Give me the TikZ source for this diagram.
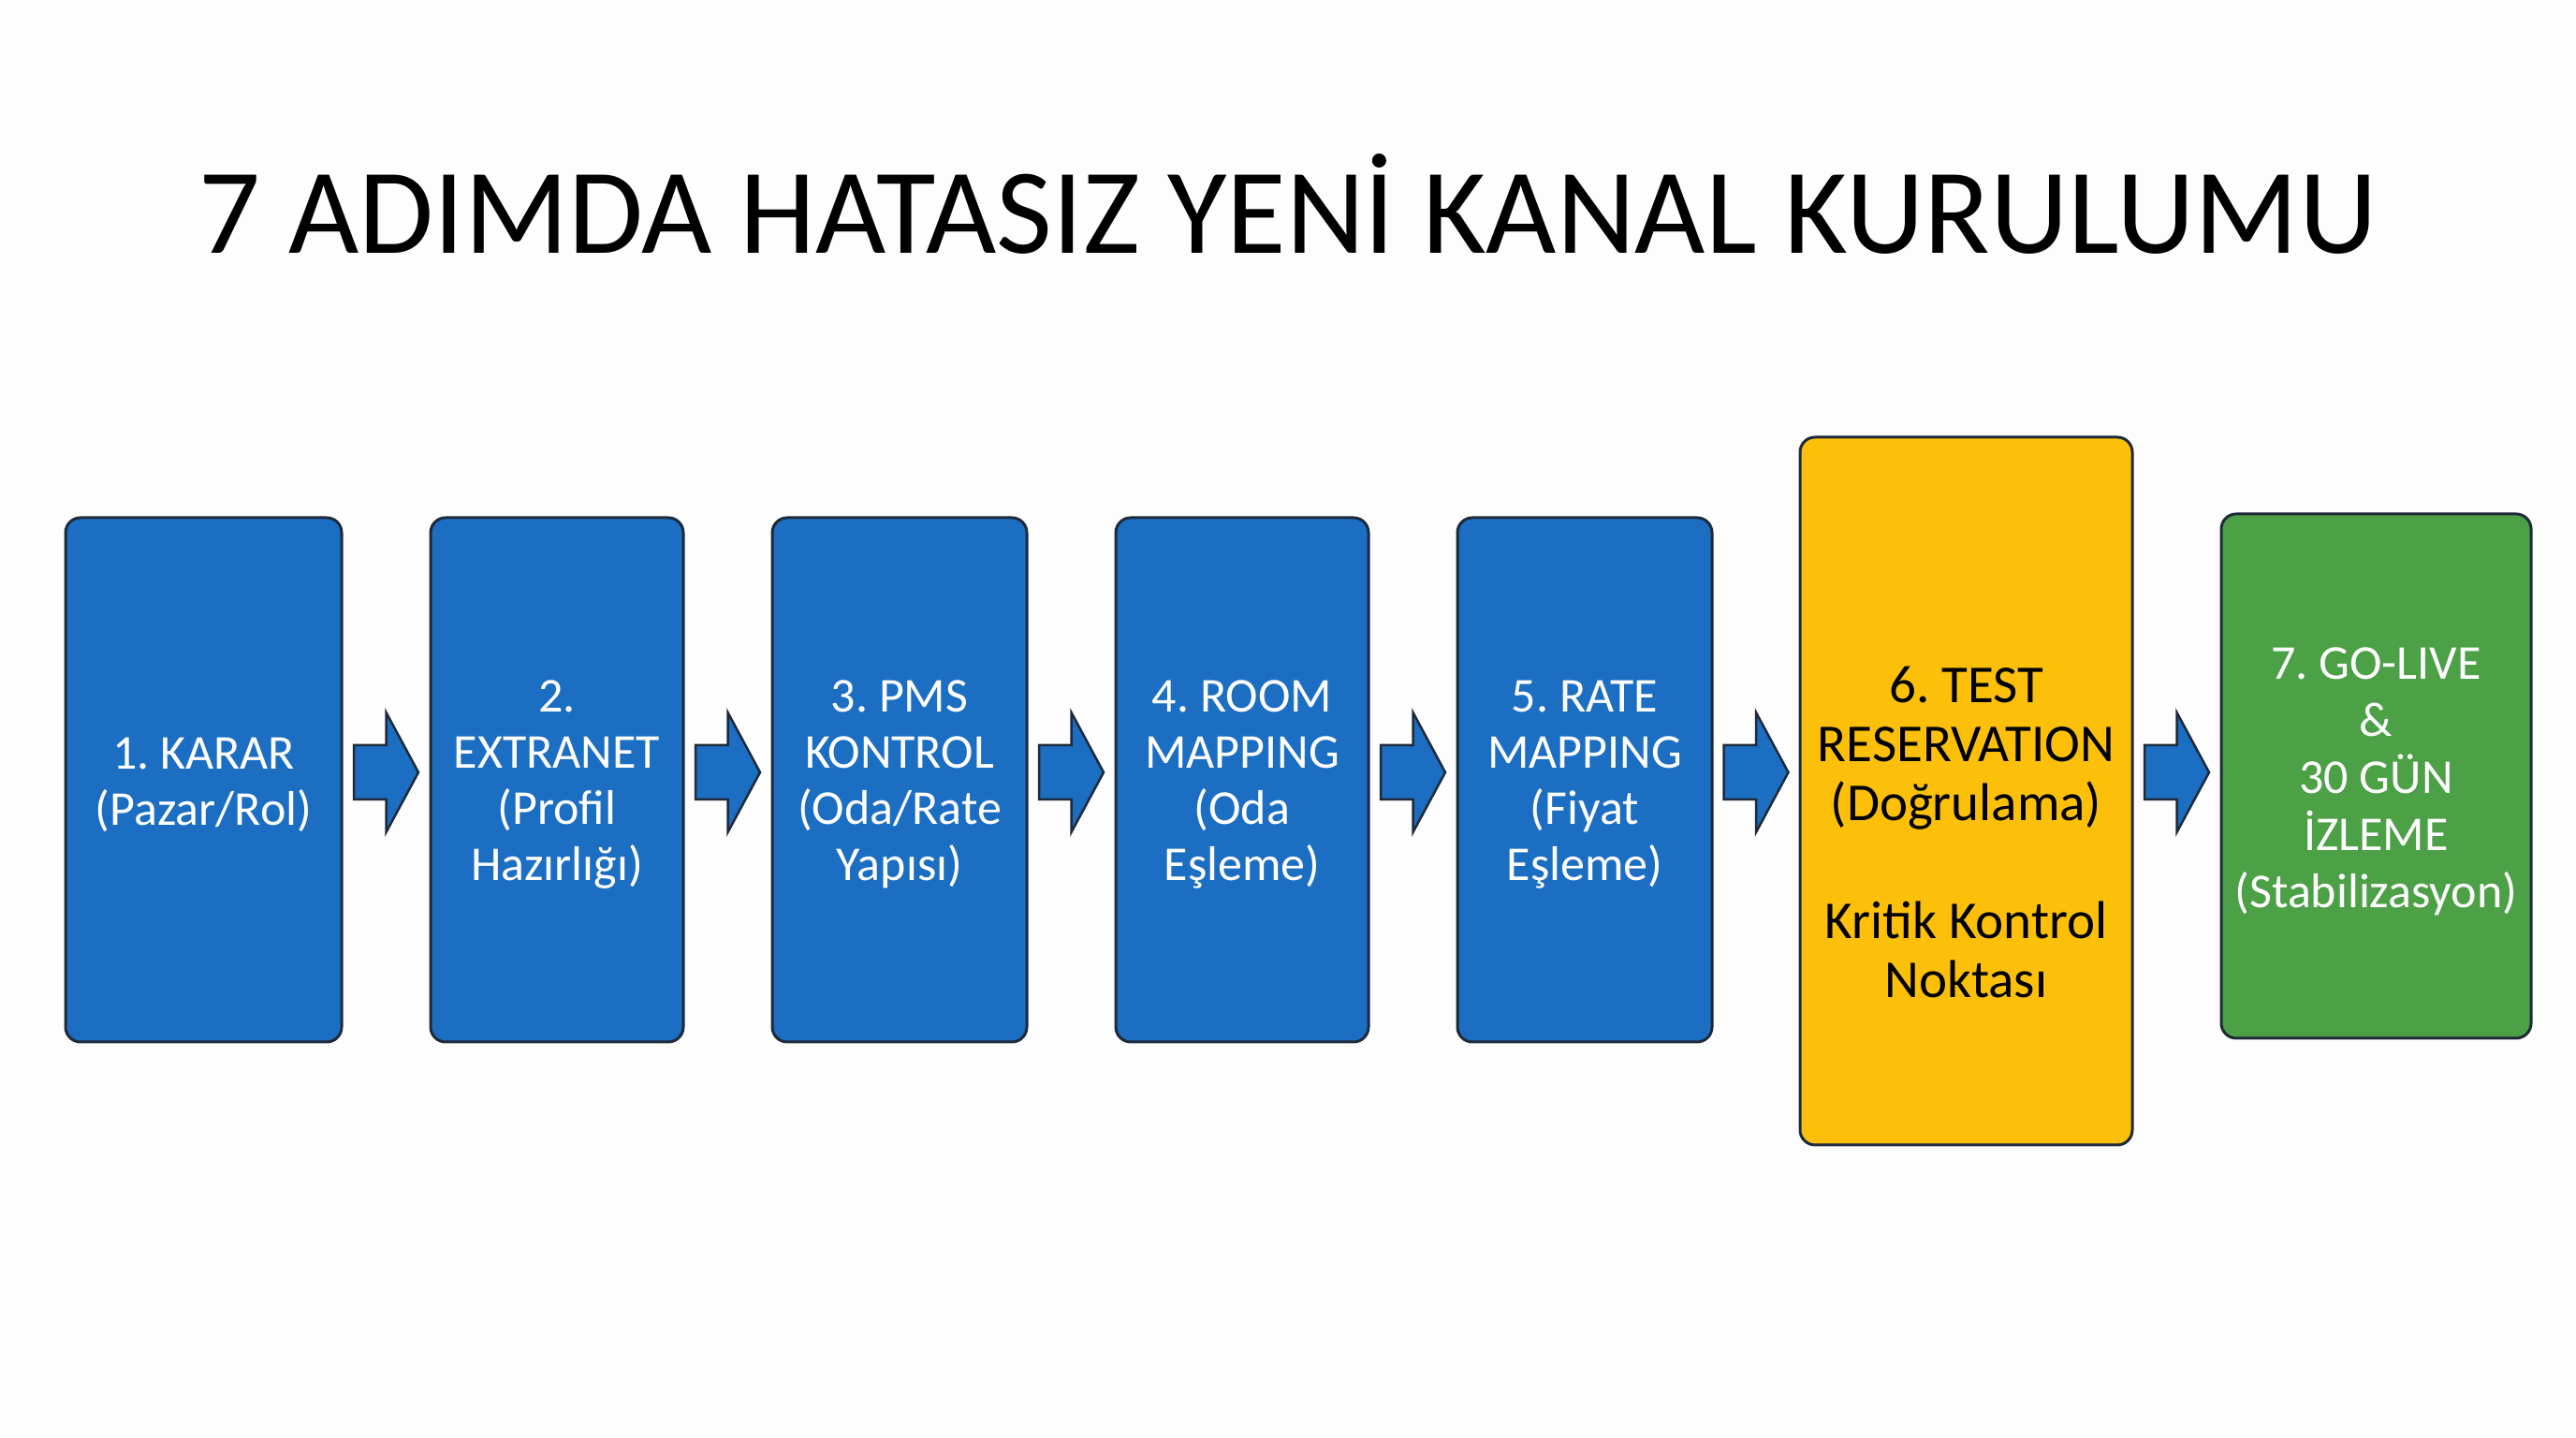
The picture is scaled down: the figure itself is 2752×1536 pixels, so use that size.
\documentclass[tikz,border=0pt]{standalone}
\usepackage{fontspec}
\setmainfont{Carlito}
\usetikzlibrary{calc}
\definecolor{stepblue}{RGB}{27,110,194}
\definecolor{stepyellow}{RGB}{252,192,10}
\definecolor{stepgreen}{RGB}{76,160,70}
\definecolor{edgenavy}{RGB}{30,42,58}
\definecolor{pagebg}{RGB}{253,253,253}
\tikzset{
  stepbox/.style={draw=edgenavy, line width=3pt, rounded corners=16pt, minimum height=560pt, inner sep=0pt},
  steptext/.style={align=center, text=white, font=\fontsize{52}{60}\selectfont},
  blockarrow/.pic={\draw[draw=edgenavy, fill=stepblue, line width=2.5pt, line join=miter]
     (-34.5,29) -- (0,29) -- (0,64) -- (34.5,0) -- (0,-64) -- (0,-29) -- (-34.5,-29) -- cycle;},
}
\begin{document}
\frenchspacing
\begin{tikzpicture}[x=1pt,y=1pt]
\fill[pagebg] (0,0) rectangle (2752,1536);
\useasboundingbox (0,0) rectangle (2752,1536);
\node[anchor=base, font=\fontsize{130}{140}\selectfont, text=black] (title) at (1376,1265) {7 ADIMDA HATASIZ YENİ KANAL KURULUMU};
\node[stepbox, fill=stepblue, minimum width=295pt] (b1) at (217.5,703) {};
\node[stepbox, fill=stepblue, minimum width=270pt] (b2) at (595,703) {};
\node[stepbox, fill=stepblue, minimum width=272pt] (b3) at (961,703) {};
\node[stepbox, fill=stepblue, minimum width=270pt] (b4) at (1327,703) {};
\node[stepbox, fill=stepblue, minimum width=272pt] (b5) at (1693,703) {};
\node[stepbox, fill=stepyellow, minimum width=355pt, minimum height=756pt] (b6) at (2100.5,691) {};
\node[stepbox, fill=stepgreen, minimum width=331pt] (b7) at (2538.5,707) {};
\node[steptext] (t1) at ([yshift=-5pt]b1.center) {1. KARAR\\(Pazar/Rol)};
\node[steptext] (t2) at ([yshift=-5pt]b2.center) {2.\\EXTRANET\\(Profil\\Hazırlığı)};
\node[steptext] (t3) at ([yshift=-5pt]b3.center) {3. PMS\\KONTROL\\(Oda/Rate\\Yapısı)};
\node[steptext] (t4) at ([yshift=-5pt]b4.center) {4. ROOM\\MAPPING\\(Oda\\Eşleme)};
\node[steptext] (t5) at ([yshift=-5pt]b5.center) {5. RATE\\MAPPING\\(Fiyat\\Eşleme)};
\node[align=center, font=\fontsize{57}{63}\selectfont, text=black] (t6) at ([yshift=-44pt]b6.center) {6. TEST\\RESERVATION\\(Doğrulama)\\[63pt]Kritik Kontrol\\Noktası};
\node[steptext, font=\fontsize{52}{61}\selectfont] (t7) at ([yshift=-6pt]b7.center) {7. GO-LIVE\\\&\\30 GÜN\\İZLEME\\(Stabilizasyon)};
\coordinate (ay) at (0,711);
\coordinate (m1) at ($(b1.east)!0.5!(b2.west)$);
\coordinate (m2) at ($(b2.east)!0.5!(b3.west)$);
\coordinate (m3) at ($(b3.east)!0.5!(b4.west)$);
\coordinate (m4) at ($(b4.east)!0.5!(b5.west)$);
\coordinate (m5) at ($(b5.east)!0.5!(b6.west)$);
\coordinate (m6) at ($(b6.east)!0.5!(b7.west)$);
\pic (a1) at (m1 |- ay) {blockarrow};
\pic (a2) at (m2 |- ay) {blockarrow};
\pic (a3) at (m3 |- ay) {blockarrow};
\pic (a4) at (m4 |- ay) {blockarrow};
\pic (a5) at (m5 |- ay) {blockarrow};
\pic (a6) at (m6 |- ay) {blockarrow};
\end{tikzpicture}
\end{document}
